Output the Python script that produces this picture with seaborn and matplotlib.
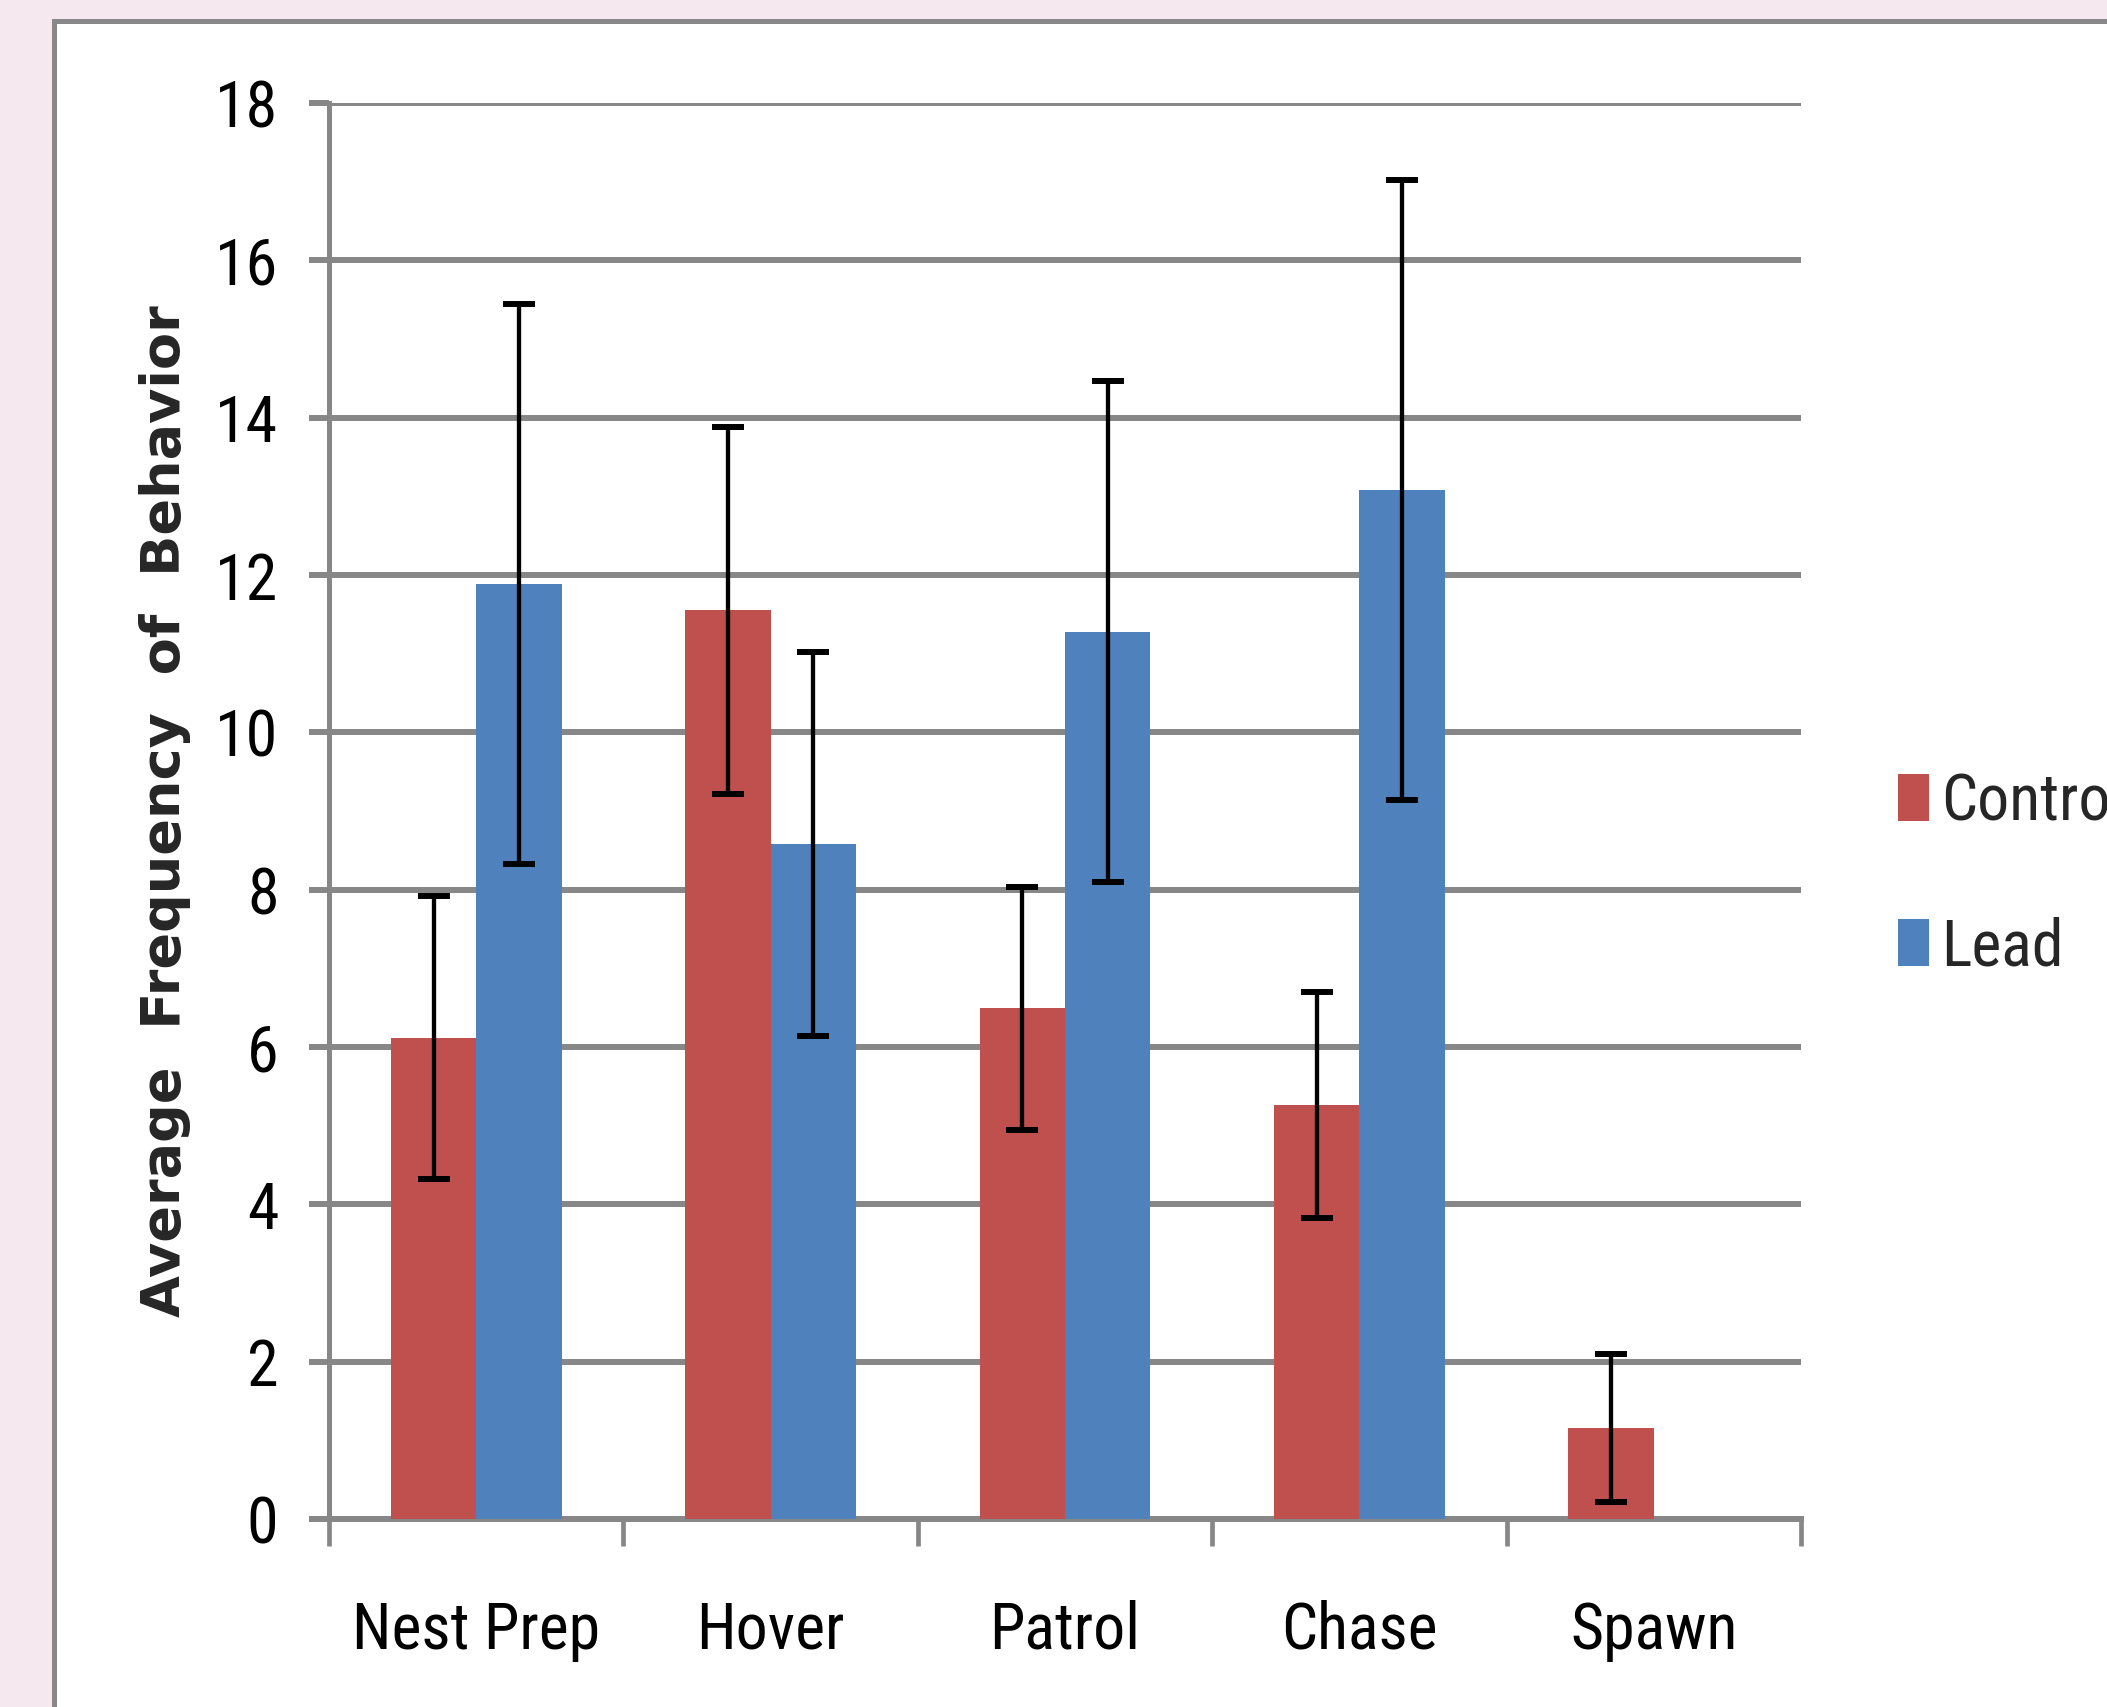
import matplotlib
matplotlib.use("Agg")
import matplotlib.pyplot as plt
import numpy as np
import pandas as pd
import seaborn as sns
from matplotlib import font_manager
from matplotlib.patches import Rectangle

## data
behaviors = ["Nest Prep", "Hover", "Patrol", "Chase", "Spawn"]
groups = ["Control", "Lead"]
control_mean = [6.12, 11.55, 6.49, 5.26, 1.16]
control_err = [1.80, 2.33, 1.54, 1.44, 0.94]
lead_mean = [11.88, 8.58, 11.28, 13.08, 0.0]
lead_err = [3.56, 2.44, 3.18, 3.94, 0.0]
y_ticks = list(range(0, 19, 2))

W, H = 2107, 1707
GRAY = "#878787"
RED = "#C0504D"
BLUE = "#4F81BD"


def pick_font(candidates, default="DejaVu Sans"):
    # first installed family from the list
    for fam in candidates:
        try:
            font_manager.findfont(font_manager.FontProperties(family=fam),
                                  fallback_to_default=False)
            return fam
        except ValueError:
            pass
    return default


sns.set_style("white")
narrow = pick_font(["Liberation Sans Narrow", "Roboto Condensed", "Open Sans Condensed"])
plt.rcParams["font.family"] = [narrow, "DejaVu Sans"]
tick_size = 46 if narrow != "DejaVu Sans" else 34

df = pd.DataFrame({
    "behavior": behaviors * 2,
    "group": [groups[0]] * 5 + [groups[1]] * 5,
    "mean": control_mean + lead_mean,
    "err": control_err + lead_err,
})

fig = plt.figure(figsize=(W / 100, H / 100), dpi=100, facecolor="#F5E9EF")
# white chart panel with gray frame (runs off right/bottom edge)
panel = Rectangle((54 / W, -0.2), 2.0, 1.2 - 21 / H, transform=fig.transFigure,
                  facecolor="white", edgecolor="#888888", linewidth=3.6, zorder=-5)
fig.add_artist(panel)

ax = fig.add_axes([329 / W, 188 / H, 1472 / W, 1416 / H])
ax.set_facecolor("none")

sns.barplot(data=df, x="behavior", y="mean", hue="group", order=behaviors,
            hue_order=groups, palette=[RED, BLUE], width=0.58, gap=0,
            errorbar=None, saturation=1, legend=False, ax=ax, zorder=3,
            linewidth=0, edgecolor="none")

# error bars centred on each bar
for cont, errs in zip(ax.containers, [control_err, lead_err]):
    for bar, e in zip(cont, errs):
        if e <= 0:
            continue
        xc = bar.get_x() + bar.get_width() / 2
        ax.errorbar(xc, bar.get_height(), yerr=e, fmt="none", ecolor="black",
                    elinewidth=3.1, capsize=11.2, capthick=4.3, zorder=5)

ax.set_xlim(-0.5, 4.5)
ax.set_ylim(0, 18)
ax.set_yticks(y_ticks)
ax.set_yticklabels([str(t) for t in y_ticks], fontsize=tick_size)
ax.yaxis.grid(True, color=GRAY, linewidth=4.3, zorder=1)
ax.set_axisbelow(True)
ax.tick_params(axis="y", direction="out", length=14.4, width=4.3, color=GRAY,
               pad=22, labelcolor="black", left=True)

# category boundaries as major ticks, names as minor labels
ax.set_xticks(np.arange(-0.5, 5, 1.0))
ax.set_xticklabels([])
ax.set_xticks(np.arange(5), minor=True)
ax.set_xticklabels(behaviors, minor=True, fontsize=tick_size)
ax.tick_params(axis="x", which="major", direction="out", length=19.4, width=3.4,
               color=GRAY, bottom=True)
ax.tick_params(axis="x", which="minor", length=0, pad=58, labelcolor="black")

for side in ["top", "right"]:
    ax.spines[side].set_visible(False)
ax.spines["left"].set_color(GRAY)
ax.spines["left"].set_linewidth(3.6)
ax.spines["bottom"].set_color(GRAY)
ax.spines["bottom"].set_linewidth(4.3)

ax.set_xlabel("")
ax.set_ylabel("Average  Frequency  of  Behavior", fontsize=39, fontweight="bold",
              family="DejaVu Sans")
ax.yaxis.set_label_coords(-0.094, 0.5)

ax.legend(ax.containers, groups, loc="upper left",
          bbox_to_anchor=(1898 / W, 1 - 771 / H), bbox_transform=fig.transFigure,
          frameon=False, fontsize=tick_size, handlelength=0.48, handleheight=0.76,
          handletextpad=0.2, labelspacing=1.3, borderpad=0, borderaxespad=0)

plt.savefig("out.png", dpi=100, facecolor=fig.get_facecolor())
plt.close()
